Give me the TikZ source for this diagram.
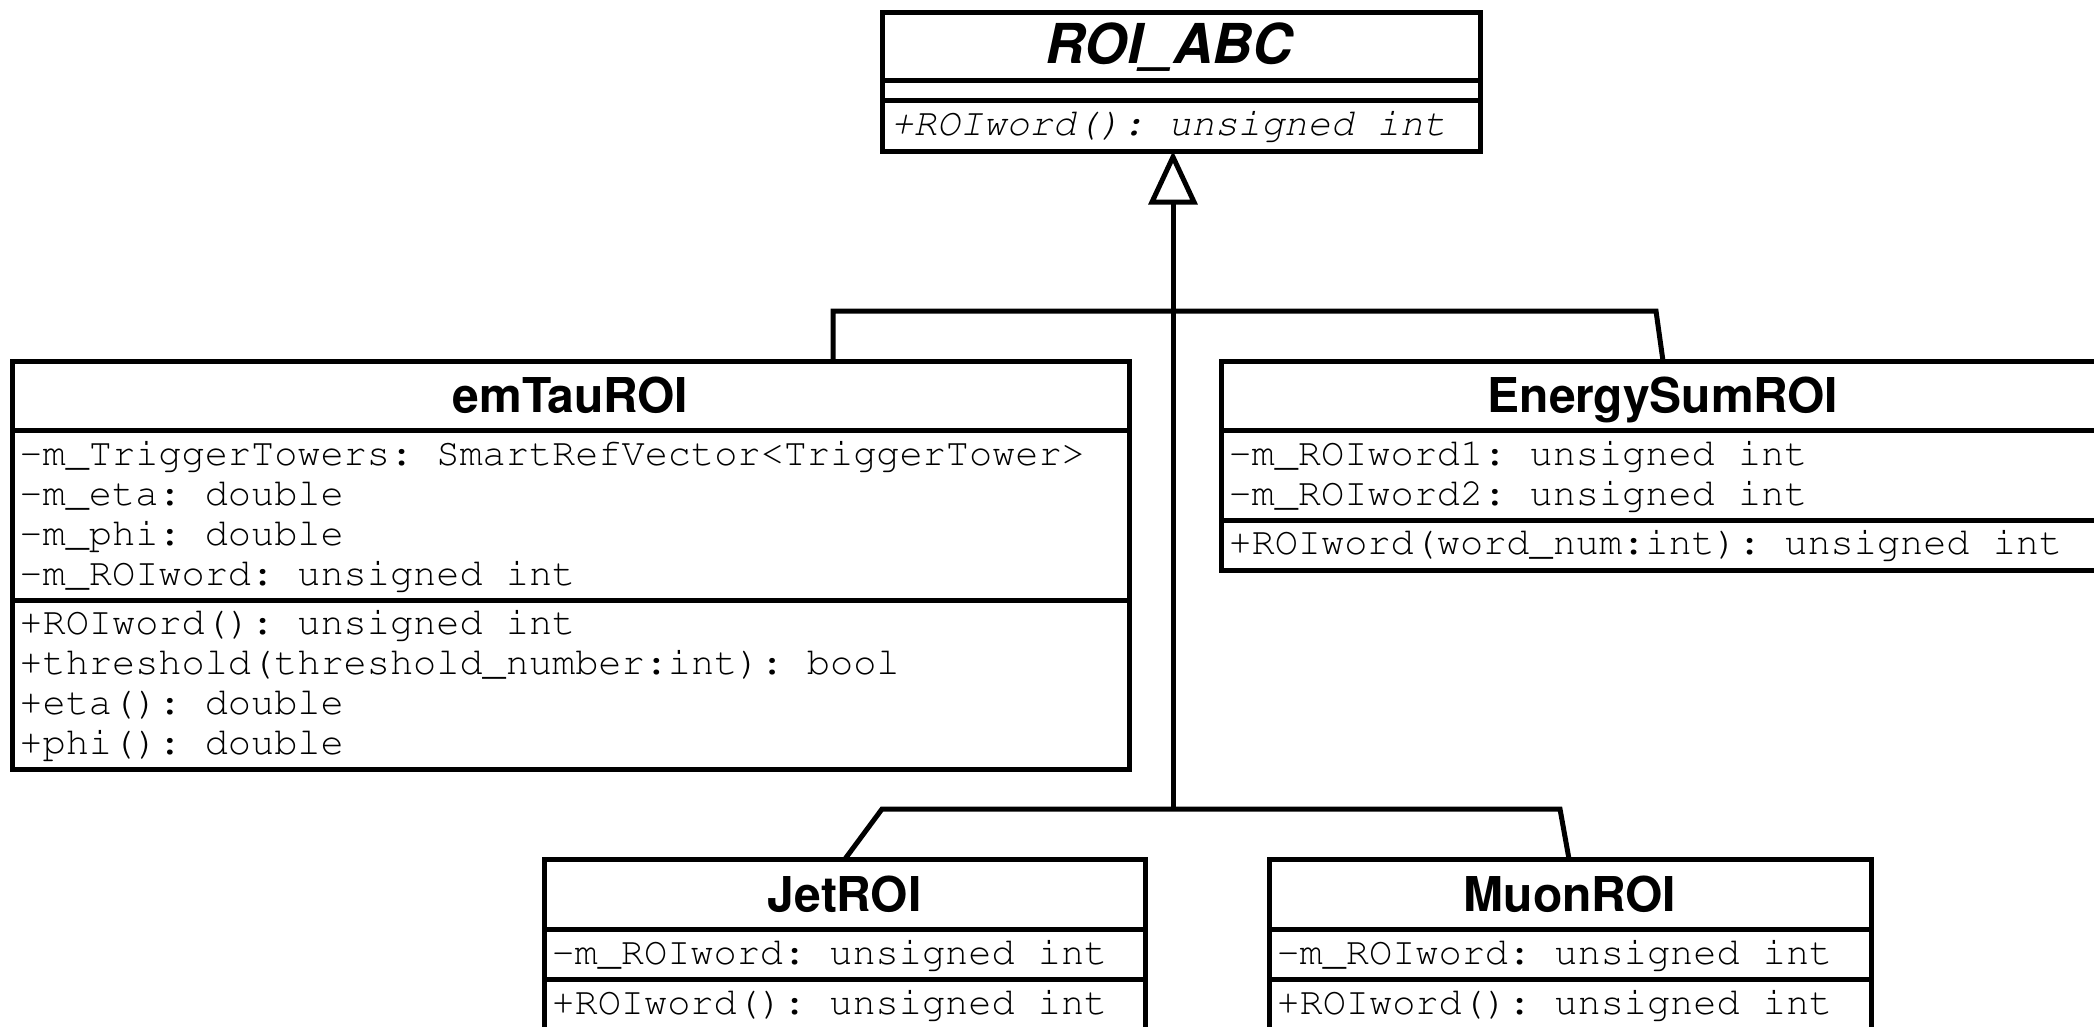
\documentclass[tikz,border=0pt]{standalone}
\usepackage[T1,TU]{fontenc}
\usepackage{fontspec}
\setmainfont{Liberation Sans}
% Courier and Helvetica clones from the URW base fonts
\newcommand\umlmono{\fontencoding{T1}\fontfamily{pcr}\fontseries{m}\fontshape{n}\selectfont\frenchspacing}
\newcommand\umlmonoslant{\fontencoding{T1}\fontfamily{pcr}\fontseries{m}\fontshape{sl}\selectfont\frenchspacing}
\newcommand\umlsans{\fontencoding{T1}\fontfamily{phv}\fontseries{b}\fontshape{n}\selectfont}
\newcommand\umlsansslant{\fontencoding{T1}\fontfamily{phv}\fontseries{b}\fontshape{sl}\selectfont}
\begin{document}
\begin{tikzpicture}[x=1pt,y=-1pt,
  line width=5pt,
  classbox/.style={draw=black, fill=white, rectangle, inner sep=0pt, outer sep=0pt, anchor=north west},
  classname/.style={inner sep=0pt, anchor=base, font=\fontsize{48pt}{50pt}\umlsans},
  abstractname/.style={inner sep=0pt, anchor=base, font=\fontsize{55pt}{57pt}\umlsansslant},
  member/.style={inner sep=0pt, anchor=base west, font=\fontsize{38.6pt}{40pt}\umlmono},
  abstractmember/.style={member, font=\fontsize{38.6pt}{40pt}\umlmonoslant},
  link/.style={draw=black, line width=5pt}
]
\useasboundingbox[fill=white] (0,0) rectangle (2094,1026);

% ---------- abstract base class ----------
\node[classbox, minimum width=598pt, minimum height=139pt] (roi) at (882,12) {};
\draw (roi.west |- 0,80) -- (roi.east |- 0,80);
\draw (roi.west |- 0,100) -- (roi.east |- 0,100);
\node[abstractname] (roi-name) at (1167,63) {ROI\_ABC};
\node[abstractmember] (roi-op1) at (888,135) {+ROIword(): unsigned int};

% ---------- emTauROI ----------
\node[classbox, minimum width=1117pt, minimum height=408pt] (emtau) at (12,361) {};
\draw (emtau.west |- 0,430) -- (emtau.east |- 0,430);
\draw (emtau.west |- 0,600) -- (emtau.east |- 0,600);
\node[classname] (emtau-name) at (570.5,412) {emTauROI};
\node[member] (emtau-a1) at (17,465) {-m\_TriggerTowers: SmartRefVector<TriggerTower>};
\node[member] (emtau-a2) at (17,505) {-m\_eta: double};
\node[member] (emtau-a3) at (17,545) {-m\_phi: double};
\node[member] (emtau-a4) at (17,585) {-m\_ROIword: unsigned int};
\node[member] (emtau-o1) at (17,634) {+ROIword(): unsigned int};
\node[member] (emtau-o2) at (17,674) {+threshold(threshold\_number:int): bool};
\node[member] (emtau-o3) at (17,714) {+eta(): double};
\node[member] (emtau-o4) at (17,754) {+phi(): double};

% ---------- EnergySumROI ----------
\node[classbox, minimum width=884pt, minimum height=209pt] (esum) at (1221,361) {};
\draw (esum.west |- 0,430) -- (esum.east |- 0,430);
\draw (esum.west |- 0,520) -- (esum.east |- 0,520);
\node[classname] (esum-name) at (1663,412) {EnergySumROI};
\node[member] (esum-a1) at (1226,465) {-m\_ROIword1: unsigned int};
\node[member] (esum-a2) at (1226,505) {-m\_ROIword2: unsigned int};
\node[member] (esum-o1) at (1226,554) {+ROIword(word\_num:int): unsigned int};

% ---------- JetROI ----------
\node[classbox, minimum width=601pt, minimum height=180pt] (jet) at (544,859) {};
\draw (jet.west |- 0,929) -- (jet.east |- 0,929);
\draw (jet.west |- 0,979) -- (jet.east |- 0,979);
\node[classname] (jet-name) at (844.5,911) {JetROI};
\node[member] (jet-a1) at (549,964) {-m\_ROIword: unsigned int};
\node[member] (jet-o1) at (549,1014) {+ROIword(): unsigned int};

% ---------- MuonROI ----------
\node[classbox, minimum width=602pt, minimum height=180pt] (muon) at (1269,859) {};
\draw (muon.west |- 0,929) -- (muon.east |- 0,929);
\draw (muon.west |- 0,979) -- (muon.east |- 0,979);
\node[classname] (muon-name) at (1570,911) {MuonROI};
\node[member] (muon-a1) at (1274,964) {-m\_ROIword: unsigned int};
\node[member] (muon-o1) at (1274,1014) {+ROIword(): unsigned int};

% ---------- generalization tree ----------
\coordinate (tip) at (1173,157);
\coordinate (tribase) at (1173,202);
\coordinate (hub-low) at (1173,809);
\coordinate (bus-l) at (833,311);
\coordinate (bus-r) at (1656,311);
\coordinate (esum-in) at (1663,361);
\coordinate (low-l) at (882,809);
\coordinate (low-r) at (1560,809);
\coordinate (jet-in) at (845,859);
\coordinate (muon-in) at (1569,859);

\draw[link] (hub-low) -- (tribase);
\draw[link] (emtau.north -| bus-l) -- (bus-l) -- (bus-r) -- (esum-in);
\draw[link] (jet-in) -- (low-l) -- (low-r) -- (muon-in);
\draw[link, fill=white] (tip) -- ([xshift=-21pt]tribase) -- ([xshift=21pt]tribase) -- cycle;
\end{tikzpicture}
\end{document}
